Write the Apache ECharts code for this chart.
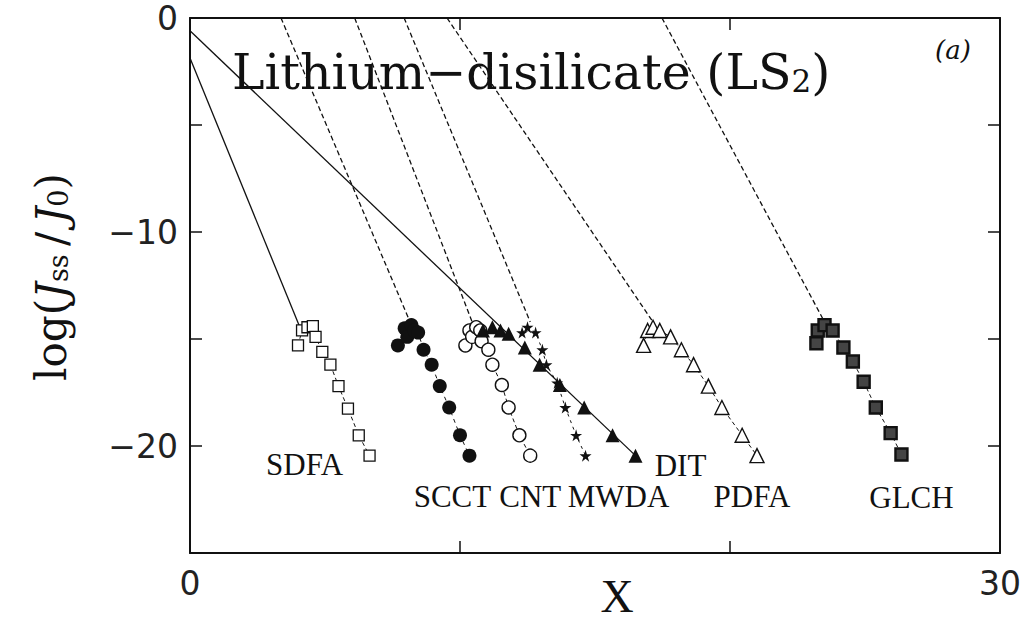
<!DOCTYPE html>
<html>
<head>
<meta charset="utf-8">
<script src="https://cdn.jsdelivr.net/npm/echarts@6/dist/echarts.min.js"></script>
<style>
  html, body { margin: 0; padding: 0; background: #fff; }
  #chart { width: 1023px; height: 621px; }
</style>
</head>
<body>
<div id="chart"></div>
<script>
// Steady-state nucleation rate log(Jss/J0) against X for lithium disilicate,
// as predicted by seven theories.

const methods = ['SDFA', 'SCCT', 'CNT', 'MWDA', 'DIT', 'PDFA', 'GLCH'];

// computed points, [X, log(Jss/J0)]
const sdfaPoints = [[4.0, -15.3], [4.15, -14.6], [4.35, -14.45], [4.55, -14.4], [4.65, -14.9],
  [4.9, -15.6], [5.2, -16.2], [5.5, -17.2], [5.85, -18.25], [6.25, -19.5], [6.65, -20.45]];
const scctPoints = [[7.7, -15.3], [7.95, -14.5], [8.05, -14.9], [8.2, -14.35], [8.3, -14.6], [8.45, -14.7],
  [8.65, -15.5], [8.95, -16.2], [9.25, -17.2], [9.6, -18.2], [10.0, -19.5], [10.35, -20.45]];
const cntPoints = [[10.2, -15.3], [10.35, -14.6], [10.45, -14.9], [10.6, -14.45], [10.75, -14.6], [10.8, -15.1],
  [11.05, -15.5], [11.2, -16.2], [11.55, -17.15], [11.8, -18.2], [12.2, -19.5], [12.6, -20.45]];
const mwdaPoints = [[12.3, -14.7], [12.5, -14.45], [12.8, -14.7], [13.05, -15.5], [13.2, -16.2],
  [13.6, -17.05], [13.9, -18.2], [14.3, -19.5], [14.65, -20.45]];
const ditPoints = [[10.85, -14.6], [11.2, -14.45], [11.5, -14.6], [11.8, -14.75], [12.4, -15.4],
  [12.95, -16.2], [13.7, -17.15], [14.6, -18.2], [15.65, -19.5], [16.5, -20.45]];
const pdfaPoints = [[16.8, -15.3], [16.95, -14.6], [17.15, -14.45], [17.4, -14.6], [17.8, -14.9],
  [18.2, -15.5], [18.65, -16.2], [19.2, -17.2], [19.7, -18.2], [20.45, -19.5], [21.0, -20.45]];
const glchPoints = [[23.2, -15.2], [23.25, -14.6], [23.5, -14.35], [23.8, -14.6], [24.2, -15.4],
  [24.55, -16.05], [24.95, -17.0], [25.4, -18.2], [25.95, -19.4], [26.35, -20.4]];

// extrapolated high-rate branches, from the frame to the maximum
const sdfaGuide = [[0, -1.87], [4.1, -14.55]];
const scctGuide = [[3.37, 0], [8.15, -14.2]];
const cntGuide = [[6.1, 0], [10.45, -14.2]];
const mwdaGuide = [[7.93, 0], [12.6, -14.2]];
const ditGuide = [[0, -0.6], [16.5, -20.45]];
const pdfaGuide = [[9.52, 0], [17.2, -14.3]];
const glchGuide = [[17.48, 0], [23.5, -14.2]];

// axis ranges and the tick values that carry a label
const xRange = [0, 30];
const yRange = [-25, 0];
const xLabelled = [0, 30];
const yLabelled = [0, -10, -20];

const pointsByMethod = {
  SDFA: sdfaPoints, SCCT: scctPoints, CNT: cntPoints, MWDA: mwdaPoints,
  DIT: ditPoints, PDFA: pdfaPoints, GLCH: glchPoints
};
const guideByMethod = {
  SDFA: sdfaGuide, SCCT: scctGuide, CNT: cntGuide, MWDA: mwdaGuide,
  DIT: ditGuide, PDFA: pdfaGuide, GLCH: glchGuide
};

// ---- look ----
const INK = '#111';
const TIMES = '"Liberation Serif", "Times New Roman", serif';
const ROMAN = '"DejaVu Serif", serif';
const SANS = '"DejaVu Sans", sans-serif';
const STAR = 'path://M50,0 L61,35 98,35 68,57 79,91 50,70 21,91 32,57 2,35 39,35 Z';

const looks = {
  SDFA: { symbol: 'rect', size: 11, fill: '#fff', border: 1.3, guide: 'solid', trail: [4, 3], tag: [-65, 9] },
  SCCT: { symbol: 'circle', size: 14, fill: INK, border: 0, guide: [5, 3], trail: [4, 4], tag: [-17, 41] },
  CNT:  { symbol: 'circle', size: 13, fill: '#fff', border: 1.4, guide: [5, 3], trail: [4, 3], tag: [0, 41] },
  MWDA: { symbol: STAR, size: 12, fill: INK, border: 0, guide: [5, 3], trail: [3, 4], tag: [33, 41] },
  DIT:  { symbol: 'triangle', size: 14, fill: INK, border: 0, guide: 'solid', trail: null, tag: [45, 10] },
  PDFA: { symbol: 'triangle', size: 14, fill: '#fff', border: 1.4, guide: [5, 3], trail: [4, 3], tag: [-5, 41] },
  GLCH: { symbol: 'rect', size: 12, fill: '#444', border: 2.4, guide: [5, 3], trail: [4, 3], tag: [10, 43] }
};

const series = [];
methods.forEach(function (name) {
  const lk = looks[name];
  const pts = pointsByMethod[name];
  series.push({
    name: name + ' branch',
    type: 'line',
    data: guideByMethod[name],
    showSymbol: false,
    silent: true,
    z: 2,
    lineStyle: { color: INK, width: 1.3, type: lk.guide }
  });
  series.push({
    name: name,
    type: 'line',
    z: 3,
    symbol: lk.symbol,
    symbolSize: lk.size,
    itemStyle: { color: lk.fill, borderColor: INK, borderWidth: lk.border, opacity: 1 },
    lineStyle: lk.trail
      ? { color: INK, width: 1, type: lk.trail }
      : { width: 0, opacity: 0 },
    data: pts.map(function (p, i) {
      if (i !== pts.length - 1) return p;
      return {
        value: p,
        label: {
          show: true,
          formatter: name,
          position: 'inside',
          align: 'center',
          verticalAlign: 'middle',
          offset: lk.tag,
          fontFamily: TIMES,
          fontSize: 31,
          color: INK
        }
      };
    })
  });
});

function minusSign(v) { return String(v).replace('-', '\u2212'); }

const frameAxis = {
  axisLine: { show: true, onZero: false, lineStyle: { color: INK, width: 2 } },
  axisTick: { show: true, inside: true, length: 12, lineStyle: { color: INK, width: 1.5 } },
  splitLine: { show: false }
};

const option = {
  animation: false,
  backgroundColor: '#fff',
  grid: { left: 190, right: 23, top: 18, bottom: 68, containLabel: false, outerBoundsMode: 'none' },
  xAxis: [
    Object.assign({}, frameAxis, {
      type: 'value', position: 'bottom', min: xRange[0], max: xRange[1], interval: 10,
      axisLabel: {
        margin: 14, fontFamily: SANS, fontSize: 33, color: '#222',
        formatter: function (v) { return xLabelled.indexOf(v) >= 0 ? minusSign(v) : ''; }
      }
    }),
    Object.assign({}, frameAxis, {
      type: 'value', position: 'top', min: xRange[0], max: xRange[1], interval: 10,
      axisLabel: { show: false }
    })
  ],
  yAxis: [
    Object.assign({}, frameAxis, {
      type: 'value', position: 'left', min: yRange[0], max: yRange[1], interval: 5,
      axisLabel: {
        margin: 12, fontFamily: SANS, fontSize: 33, color: '#222',
        formatter: function (v) { return yLabelled.indexOf(v) >= 0 ? minusSign(v) : ''; }
      }
    }),
    Object.assign({}, frameAxis, {
      type: 'value', position: 'right', min: yRange[0], max: yRange[1], interval: 5,
      axisLabel: { show: false }
    })
  ],
  graphic: [
    {
      type: 'text', x: 232, y: 72, z: 10,
      style: {
        text: 'Lithium\u2212disilicate (LS{sub|2})',
        fontFamily: ROMAN, fontSize: 49,
        fill: INK, align: 'left', verticalAlign: 'middle',
        rich: {
          sub: { fontFamily: ROMAN, fontSize: 31, lineHeight: 18, verticalAlign: 'bottom', fill: INK }
        }
      }
    },
    {
      type: 'text', x: 953, y: 50, z: 10,
      style: {
        text: '(a)', fontFamily: ROMAN, fontSize: 26, fontStyle: 'italic',
        fill: INK, align: 'center', verticalAlign: 'middle'
      }
    },
    {
      type: 'text', x: 51, y: 277, rotation: Math.PI / 2, z: 10,
      style: {
        text: 'log({j|J}{s|ss}\u2009/\u2009{j|J}{s|0})',
        fontFamily: ROMAN, fontSize: 42, fill: INK,
        align: 'center', verticalAlign: 'middle',
        rich: {
          j: { fontFamily: ROMAN, fontSize: 42, fontStyle: 'italic', fill: INK },
          s: { fontFamily: ROMAN, fontSize: 27, lineHeight: 14, verticalAlign: 'bottom', fill: INK }
        }
      }
    },
    {
      type: 'text', x: 617, y: 619, z: 10,
      style: {
        text: 'X', fontFamily: TIMES, fontSize: 46, fill: INK,
        align: 'center', verticalAlign: 'bottom'
      }
    }
  ],
  series: series
};

const chart = echarts.init(document.getElementById('chart'), null, { renderer: 'svg' });
chart.setOption(option);
</script>
</body>
</html>
